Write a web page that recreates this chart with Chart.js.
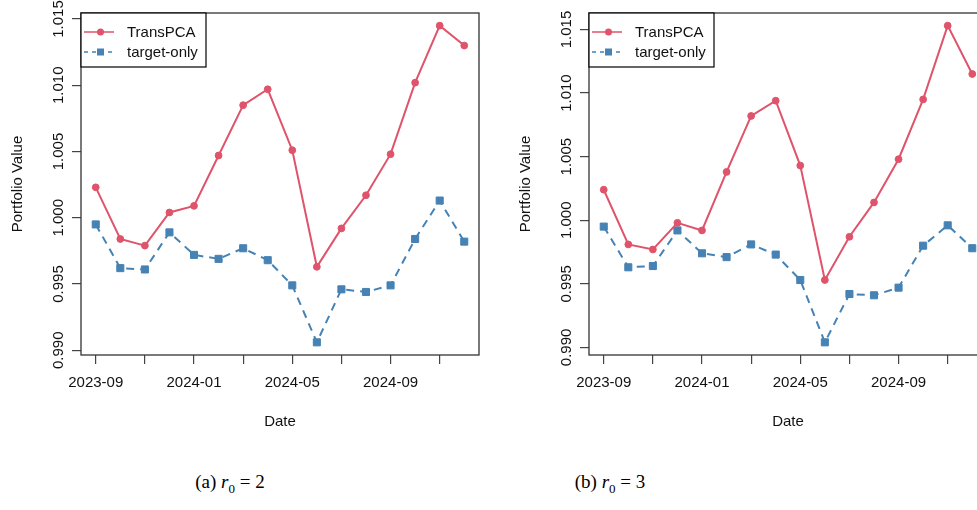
<!DOCTYPE html>
<html>
<head>
<meta charset="utf-8">
<script src="https://cdn.jsdelivr.net/npm/chart.js@4.4.1/dist/chart.umd.min.js"></script>
<style>
    html, body { margin: 0; padding: 0; background: #fff; overflow: hidden; }
    #page { position: relative; width: 977px; height: 510px; overflow: hidden; }
    .panel { position: absolute; top: 0; height: 440px; overflow: hidden; }
    .caption { position: absolute; top: 471px; width: 200px; text-align: center;
               font-family: "Liberation Serif", serif; font-size: 19px; color: #000; }
    .caption sub { font-size: 13px; }
</style>
</head>
<body>
<div id="page">
    <div class="panel" style="left:0; width:488px;"><canvas id="chartA" width="488" height="440"></canvas></div>
    <div class="panel" style="left:488px; width:489px;"><canvas id="chartB" width="510" height="440"></canvas></div>
    <div class="caption" style="left:130px;">(a) <i>r</i><sub>0</sub> = 2</div>
    <div class="caption" style="left:510px;">(b) <i>r</i><sub>0</sub> = 3</div>
</div>
<script>
var months = ['2023-09', '2023-10', '2023-11', '2023-12', '2024-01', '2024-02', '2024-03', '2024-04',
              '2024-05', '2024-06', '2024-07', '2024-08', '2024-09', '2024-10', '2024-11', '2024-12'];

// panel (a) r0 = 2
var transA  = [1.0023, 0.9984, 0.9979, 1.0004, 1.0009, 1.0047, 1.0085, 1.0097,
               1.0051, 0.9963, 0.9992, 1.0017, 1.0048, 1.0102, 1.0145, 1.0130];
var targetA = [0.9995, 0.9962, 0.9961, 0.9989, 0.9972, 0.9969, 0.9977, 0.9968,
               0.9949, 0.9906, 0.9946, 0.9944, 0.9949, 0.9984, 1.0013, 0.9982];

// panel (b) r0 = 3
var transB  = [1.0024, 0.9981, 0.9977, 0.9998, 0.9992, 1.0038, 1.0082, 1.0094,
               1.0043, 0.9953, 0.9987, 1.0014, 1.0048, 1.0095, 1.0153, 1.0115];
var targetB = [0.9995, 0.9963, 0.9964, 0.9992, 0.9974, 0.9971, 0.9981, 0.9973,
               0.9953, 0.9904, 0.9942, 0.9941, 0.9947, 0.9980, 0.9996, 0.9978];

var xTickMonths = ['2023-09', '2023-11', '2024-01', '2024-03', '2024-05', '2024-07', '2024-09', '2024-11'];
var xTickLabels = ['2023-09', '2024-01', '2024-05', '2024-09'];
var yTicks = [0.990, 0.995, 1.000, 1.005, 1.010, 1.015];

var seriesNames = ['TransPCA', 'target-only'];

var RED = '#DF536B';
var BLUE = '#4682B4';
var FONT = 'Liberation Sans, Arial, sans-serif';

// R style axis extension: 4% on each side
var rRange = function (vals) {
    var lo = Math.min.apply(null, vals), hi = Math.max.apply(null, vals);
    var d = (hi - lo) * 0.04;
    return [lo - d, hi + d];
}

var toPoints = function (vals) {
    return vals.map(function (v, i) { return { x: i, y: v }; });
}

// box, rotated y labels and the legend, drawn the way base R does it
var rPlotPlugin = {
    id: 'rplot',
    afterDraw: function (chart) {
        var ctx = chart.ctx;
        var area = chart.chartArea;
        var y = chart.scales.y;
        ctx.save();

        ctx.strokeStyle = '#333';
        ctx.lineWidth = 1.3;
        ctx.strokeRect(area.left, area.top, area.right - area.left, area.bottom - area.top);

        ctx.fillStyle = '#111';
        ctx.font = '15px ' + FONT;
        ctx.textAlign = 'center';
        ctx.textBaseline = 'alphabetic';
        yTicks.forEach(function (v) {
            var py = y.getPixelForValue(v);
            ctx.save();
            ctx.translate(area.left - 18, py);
            ctx.rotate(-Math.PI / 2);
            ctx.fillText(v.toFixed(3), 0, 0);
            ctx.restore();
        });

        // legend
        var lx = area.left, ly = area.top;
        ctx.fillStyle = '#fff';
        ctx.fillRect(lx, ly, 125, 54);
        ctx.strokeStyle = '#000';
        ctx.lineWidth = 1.2;
        ctx.strokeRect(lx, ly, 125, 54);
        chart.data.datasets.forEach(function (ds, i) {
            var ry = ly + 19 + i * 20;
            ctx.strokeStyle = ds.borderColor;
            ctx.lineWidth = 1.5;
            ctx.setLineDash(i === 1 ? [4, 4] : []);
            ctx.beginPath();
            ctx.moveTo(lx + 3, ry);
            ctx.lineTo(lx + 33, ry);
            ctx.stroke();
            ctx.setLineDash([]);
            ctx.fillStyle = ds.borderColor;
            if (ds.pointStyle === 'rect') {
                ctx.fillRect(lx + 16, ry - 3.5, 7, 7);
            } else {
                ctx.beginPath();
                ctx.arc(lx + 19.5, ry, 3.5, 0, Math.PI * 2);
                ctx.fill();
            }
            ctx.fillStyle = '#111';
            ctx.textAlign = 'left';
            ctx.textBaseline = 'middle';
            ctx.fillText(ds.label, lx + 46, ry + 1);
        });
        ctx.restore();
    }
}

var createChart = function (canvasId, trans, target, padLeft, padRight) {
    var yr = rRange(trans.concat(target));
    var xr = rRange([0, months.length - 1]);

    return new Chart(document.getElementById(canvasId), {
        type: 'line',
        data: {
            datasets: [{
                label: seriesNames[0],
                data: toPoints(trans),
                borderColor: RED,
                backgroundColor: RED,
                borderWidth: 2,
                pointStyle: 'circle',
                pointRadius: 3.4,
                pointBorderWidth: 1,
                pointBackgroundColor: RED,
                pointBorderColor: RED
            }, {
                label: seriesNames[1],
                data: toPoints(target),
                borderColor: BLUE,
                backgroundColor: BLUE,
                borderWidth: 2,
                borderDash: [8, 6],
                pointStyle: 'rect',
                pointRadius: 5,
                pointBorderWidth: 1,
                pointBackgroundColor: BLUE,
                pointBorderColor: BLUE
            }]
        },
        options: {
            responsive: false,
            animation: false,
            layout: { padding: { top: 13, right: padRight, left: padLeft, bottom: 0 } },
            plugins: {
                legend: { display: false },
                tooltip: { enabled: false }
            },
            scales: {
                x: {
                    type: 'linear',
                    min: xr[0],
                    max: xr[1],
                    afterBuildTicks: function (axis) {
                        axis.ticks = xTickMonths.map(function (m) { return { value: months.indexOf(m) }; });
                    },
                    afterFit: function (axis) { axis.height = 85; },
                    grid: { drawOnChartArea: false, drawTicks: true, tickLength: 9, color: '#444', lineWidth: 1.2 },
                    border: { display: false },
                    ticks: {
                        autoSkip: false,
                        maxRotation: 0,
                        padding: 10,
                        color: '#111',
                        font: { family: FONT, size: 15 },
                        callback: function (v) {
                            var m = months[v];
                            return xTickLabels.indexOf(m) >= 0 ? m : '';
                        }
                    },
                    title: {
                        display: true,
                        text: 'Date',
                        color: '#111',
                        font: { family: FONT, size: 15 },
                        padding: { top: 0, bottom: 9 }
                    }
                },
                y: {
                    type: 'linear',
                    min: yr[0],
                    max: yr[1],
                    afterBuildTicks: function (axis) {
                        axis.ticks = yTicks.map(function (v) { return { value: v }; });
                    },
                    afterFit: function (axis) { axis.width = 81; },
                    grid: { drawOnChartArea: false, drawTicks: true, tickLength: 9, color: '#444', lineWidth: 1.2 },
                    border: { display: false },
                    ticks: { display: false },
                    title: {
                        display: true,
                        text: 'Portfolio Value',
                        color: '#111',
                        font: { family: FONT, size: 15 },
                        padding: { top: 9, bottom: 0 }
                    }
                }
            }
        },
        plugins: [rPlotPlugin]
    });
}

createChart('chartA', transA, targetA, 0, 9);
createChart('chartB', transB, targetB, 20, 11);
</script>
</body>
</html>
